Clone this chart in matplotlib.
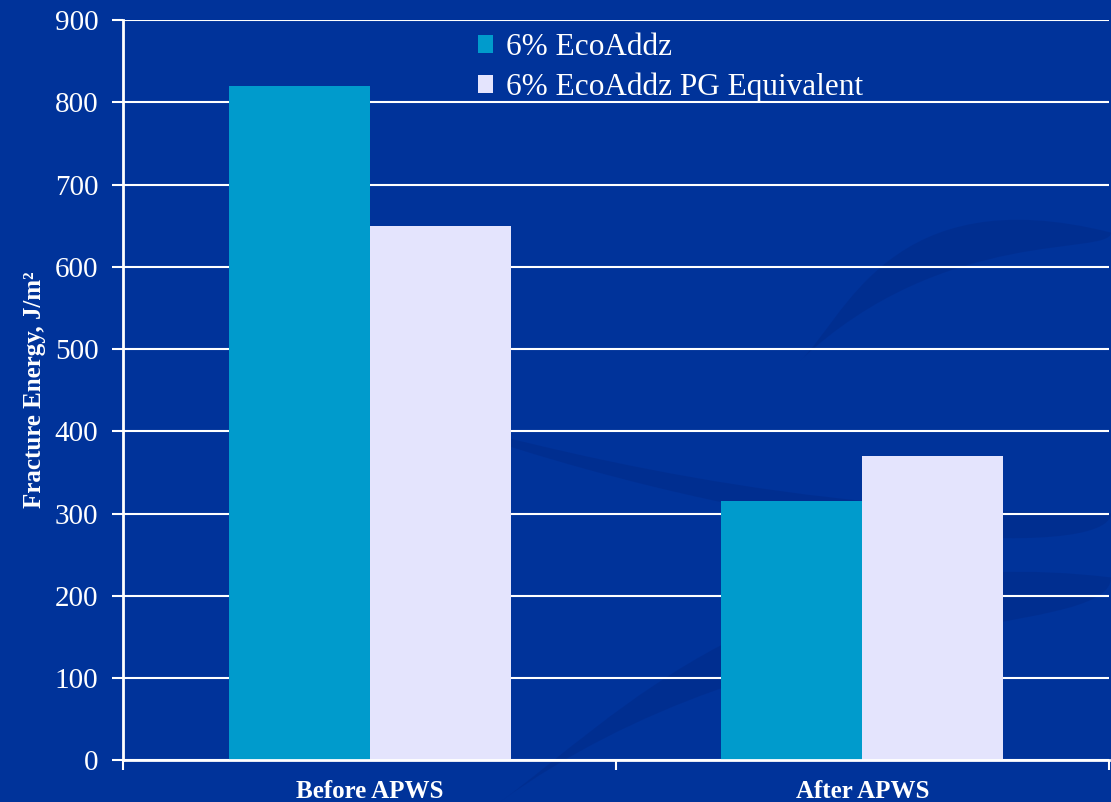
import numpy as np
import matplotlib
matplotlib.use("Agg")
import matplotlib.pyplot as plt
from matplotlib.patches import PathPatch
from matplotlib.path import Path

categories = ["Before APWS", "After APWS"]
series_names = ["6% EcoAddz", "6% EcoAddz PG Equivalent"]
ecoaddz = [820, 315]
ecoaddz_pg = [650, 370]
yticks = [0, 100, 200, 300, 400, 500, 600, 700, 800, 900]

bg = "#00339a"
colors = ["#009bcc", "#e4e4fd"]

plt.rcParams['font.family'] = ['Liberation Serif', 'DejaVu Serif']

fig = plt.figure(figsize=(11.11, 8.02), dpi=100, facecolor=bg)

# faint background swooshes
bgax = fig.add_axes([0, 0, 1, 1])
bgax.set_xlim(0, 1)
bgax.set_ylim(0, 1)
bgax.axis("off")
swooshes = [
    [(0.45, 0.0), (0.7, 0.25), (1.0, 0.2), (1.0, 0.28), (0.7, 0.33), (0.55, 0.1), (0.45, 0.0)],
    [(0.38, 0.48), (0.7, 0.32), (1.0, 0.3), (1.0, 0.36), (0.7, 0.36), (0.5, 0.44), (0.38, 0.48)],
    [(0.72, 0.55), (0.85, 0.72), (1.0, 0.68), (1.0, 0.71), (0.8, 0.78), (0.76, 0.6), (0.72, 0.55)],
]
for pts in swooshes:
    codes = [Path.MOVETO, Path.CURVE4, Path.CURVE4, Path.CURVE4,
             Path.CURVE4, Path.CURVE4, Path.CURVE4]
    bgax.add_patch(PathPatch(Path(pts, codes), facecolor="#002a88",
                             edgecolor="none", alpha=0.5))

ax = fig.add_axes([0.111, 0.052, 0.887, 0.923])
ax.set_facecolor("none")

x = np.arange(len(categories)) + 0.5
w = 0.286
ax.bar(x - w / 2, ecoaddz, w, color=colors[0], label=series_names[0], zorder=3)
ax.bar(x + w / 2, ecoaddz_pg, w, color=colors[1], label=series_names[1], zorder=3)

ax.set_xlim(0, 2)
ax.set_ylim(0, 900)
ax.set_yticks(yticks)
ax.set_xticks([0, 1, 2])
ax.set_xticklabels([])
ax.set_xticks(x, minor=True)
ax.set_xticklabels(categories, minor=True, fontweight="bold", fontsize=18)
ax.tick_params(axis="x", which="minor", length=0, pad=14, colors="white")
ax.tick_params(axis="x", which="major", length=7, width=1.5, color="white")
ax.tick_params(axis="y", length=8, width=1.5, color="white",
               labelcolor="white", labelsize=21, pad=10)

ax.grid(axis="y", color="white", linewidth=1.5, zorder=1)
for s in ["top", "right"]:
    ax.spines[s].set_visible(False)
for s in ["left", "bottom"]:
    ax.spines[s].set_color("white")
    ax.spines[s].set_linewidth(2)
    ax.spines[s].set_zorder(4)

ax.set_ylabel("Fracture Energy, J/m²", color="white", fontweight="bold",
              fontsize=18, labelpad=6)

leg = ax.legend(loc="upper center", bbox_to_anchor=(0.555, 1.02), frameon=False,
                fontsize=22.5, labelcolor="white", handlelength=0.5,
                handleheight=0.5, handletextpad=0.4, labelspacing=0.32)

fig.savefig("out.png", dpi=100, facecolor=bg)
